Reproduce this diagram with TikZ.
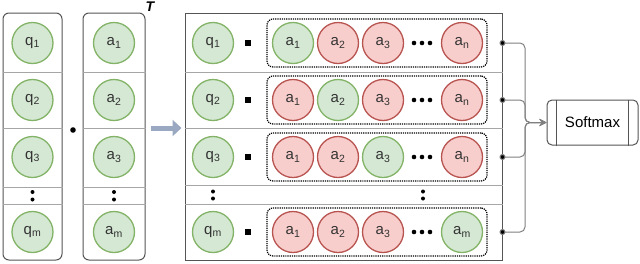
\documentclass[tikz,border=0pt]{standalone}
\usepackage{fontspec}
\setmainfont{Liberation Sans}
\usetikzlibrary{positioning,arrows.meta}
\definecolor{okfill}{HTML}{D5E8D4}
\definecolor{okline}{HTML}{82B366}
\definecolor{badfill}{HTML}{F8CECC}
\definecolor{badline}{HTML}{B85450}
\definecolor{frame}{HTML}{555555}
\definecolor{wire}{HTML}{808080}
\definecolor{steel}{HTML}{9AA8C2}

\begin{document}
\begin{tikzpicture}[x=1pt, y=-1pt, >=Stealth,
    hit/.style={circle, draw=okline, fill=okfill, line width=1.3pt, minimum size=41pt, inner sep=0pt, text=black!80, font=\fontsize{15}{17}\selectfont},
    miss/.style={hit, draw=badline, fill=badfill},
    column/.style={draw=frame, line width=1pt, rounded corners=6pt, inner sep=0pt, minimum height=247pt},
    divider/.style={draw=black!35, line width=0.8pt},
    group/.style={draw=black, densely dotted, line width=1.2pt, rounded corners=6pt, minimum width=220pt, minimum height=48pt},
    wire/.style={draw=wire, line width=1pt, rounded corners=5pt},
    softmax/.style={draw=frame, line width=1pt, rounded corners=5pt, minimum width=91pt, minimum height=45pt, font=\fontsize{15}{18}\selectfont}]

\useasboundingbox (0,0) rectangle (640,263);

% the two columns q and a^T
\node [column, minimum width=59pt] (qcol) at (32.5,136.5) {};
\node [column, minimum width=62pt] (acol) at (114,136.5) {};
\node [font=\bfseries\itshape\fontsize{14}{16}\selectfont, anchor=base] (tr) at (150,11.5) {T};
\foreach \y in {72,128,187,204} {
  \draw [divider] (qcol.west |- 0,\y) -- (qcol.east |- 0,\y);
  \draw [divider] (acol.west |- 0,\y) -- (acol.east |- 0,\y);
}
\foreach \r/\y/\s in {1/43/1, 2/100/2, 3/157/3, m/232/m} {
  \node [hit] (q\r) at (qcol.center |- 0,\y) {q\textsubscript{\s}};
  \node [hit] (a\r) at (acol.center |- 0,\y) {a\textsubscript{\s}};
}
\foreach \c in {qcol,acol} {
  \fill [black] (\c.center |- 0,192) circle (2pt) (\c.center |- 0,199.5) circle (2pt);
}
\fill [black] (73,130) circle (2.8pt);

% the product rows
\node [draw=frame, line width=1pt, minimum width=317pt, minimum height=247pt, inner sep=0pt] (big) at (343.5,136.5) {};
\foreach \y in {72,128,185,204} {
  \draw [divider] (big.west |- 0,\y) -- (big.east |- 0,\y);
}
\draw [line width=5pt, draw=steel, -{Triangle[length=9pt,width=16pt]}] ([xshift=5pt]acol.east |- 0,128) -- ([xshift=-3pt]big.west |- 0,128);

\foreach \r/\y/\s/\l in {1/43/1/n, 2/100/2/n, 3/157/3/n, 4/232/m/m} {
  \node [hit] (rq\r) at (213,\y) {q\textsubscript{\s}};
  \node [fill=black, minimum size=6pt, inner sep=0pt] (dot\r) at (248,\y) {};
  \node [group] (g\r) at (377,\y) {};
  \foreach \p/\x/\t in {1/293/1, 2/338/2, 3/383/3, 4/462/\l} {
    \edef\kind{\ifnum\p=\r hit\else miss\fi}
    \node [\kind] (r\r a\p) at (\x,\y) {a\textsubscript{\t}};
  }
  \fill [black] (414,\y) circle (2.3pt) (422,\y) circle (2.3pt) (430,\y) circle (2.3pt);
  \coordinate (o\r) at (big.east |- 0,\y);
}
\fill [black] (213,191.5) circle (2pt) (213,198.5) circle (2pt);
\fill [black] (423,191.5) circle (2pt) (423,198.5) circle (2pt);

% softmax
\node [softmax] (sm) at (592.5,122.5) {Softmax};
\draw [frame, line width=1pt] ([xshift=10pt]sm.north west) -- ([xshift=10pt]sm.south west);
\draw [frame, line width=1pt] ([xshift=-10pt]sm.north east) -- ([xshift=-10pt]sm.south east);
\coordinate (hub) at (525,122.5);
\foreach \r in {1,...,4} {
  \draw [wire, -{Stealth[length=7pt,width=7pt]}] (o\r) -| (hub) -- (sm.west);
  \fill [wire] (o\r) circle (2.5pt);
}

\end{tikzpicture}
\end{document}
